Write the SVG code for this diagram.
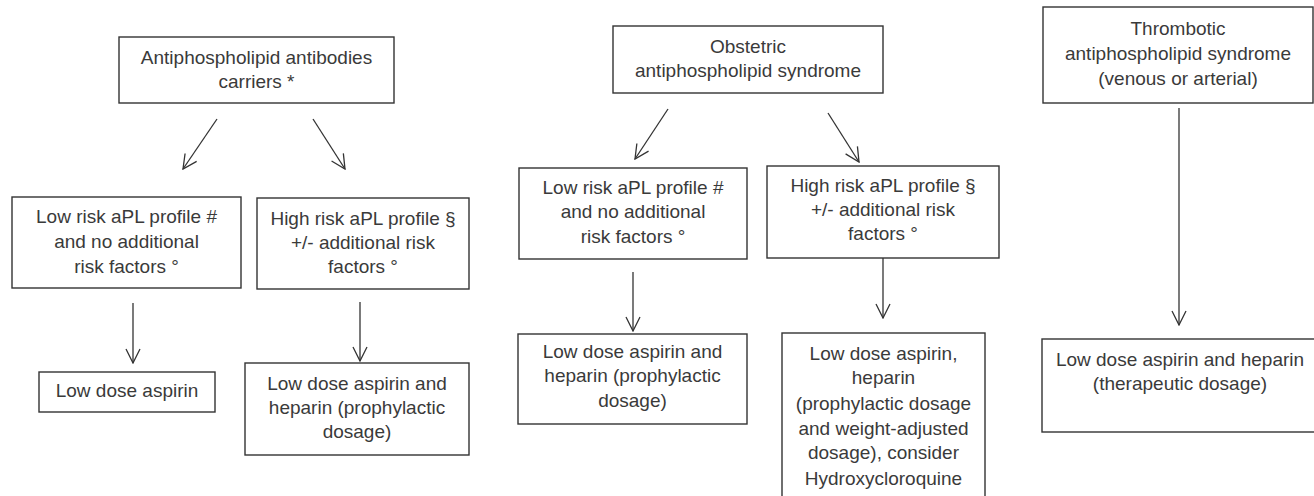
<svg xmlns="http://www.w3.org/2000/svg" width="1314" height="496" viewBox="0 0 1314 496">
<style>
.box{fill:#fff;stroke:#333;stroke-width:1.4}
.t{font-family:"Liberation Sans",Arial,sans-serif;font-size:19px;fill:#3a3a3a;text-anchor:middle}
.c{stroke:#333;stroke-width:1.3;fill:none;marker-end:url(#ah)}
</style>
<defs>
<marker id="ah" markerUnits="userSpaceOnUse" markerWidth="16" markerHeight="16" viewBox="0 0 16 16" refX="15" refY="8" orient="auto">
<path d="M1,1 L15,8 L1,15" fill="none" stroke="#333" stroke-width="1.3"/>
</marker>
</defs>
<rect width="1314" height="496" fill="#fff"/>
<g id="connectors">
<line class="c" x1="217" y1="119" x2="183" y2="169"/>
<line class="c" x1="313" y1="119" x2="345" y2="169"/>
<line class="c" x1="133" y1="303" x2="133" y2="363"/>
<line class="c" x1="360" y1="302" x2="360" y2="361"/>
<line class="c" x1="668" y1="109" x2="635" y2="159"/>
<line class="c" x1="828" y1="113" x2="859" y2="162"/>
<line class="c" x1="633" y1="272" x2="633" y2="331"/>
<line class="c" x1="883" y1="258" x2="883" y2="318"/>
<line class="c" x1="1179" y1="108" x2="1179" y2="325"/>
</g>
<g id="carriers">
<rect class="box" x="119" y="37" width="275" height="66"/>
<text class="t" x="256.5" y="64">Antiphospholipid antibodies</text>
<text class="t" x="256.5" y="88">carriers *</text>
</g>
<g id="carriers-low">
<rect class="box" x="12" y="197" width="229" height="91"/>
<text class="t" x="126.5" y="223">Low risk aPL profile #</text>
<text class="t" x="126.5" y="248">and no additional</text>
<text class="t" x="126.5" y="273">risk factors °</text>
</g>
<g id="carriers-high">
<rect class="box" x="257" y="198" width="212" height="91"/>
<text class="t" x="363" y="225">High risk aPL profile §</text>
<text class="t" x="363" y="249">+/- additional risk</text>
<text class="t" x="363" y="273">factors °</text>
</g>
<g id="carriers-low-tx">
<rect class="box" x="39" y="372" width="176" height="40"/>
<text class="t" x="127" y="397">Low dose aspirin</text>
</g>
<g id="carriers-high-tx">
<rect class="box" x="245" y="363" width="224" height="92"/>
<text class="t" x="357" y="390">Low dose aspirin and</text>
<text class="t" x="357" y="414">heparin (prophylactic</text>
<text class="t" x="357" y="438">dosage)</text>
</g>
<g id="obstetric">
<rect class="box" x="613" y="26" width="270" height="67"/>
<text class="t" x="748" y="53">Obstetric</text>
<text class="t" x="748" y="77">antiphospholipid syndrome</text>
</g>
<g id="obstetric-low">
<rect class="box" x="519" y="168" width="228" height="91"/>
<text class="t" x="633" y="194">Low risk aPL profile #</text>
<text class="t" x="633" y="218">and no additional</text>
<text class="t" x="633" y="243">risk factors °</text>
</g>
<g id="obstetric-high">
<rect class="box" x="767" y="166" width="232" height="92"/>
<text class="t" x="883" y="192">High risk aPL profile §</text>
<text class="t" x="883" y="216">+/- additional risk</text>
<text class="t" x="883" y="240">factors °</text>
</g>
<g id="obstetric-low-tx">
<rect class="box" x="518" y="334" width="229" height="90"/>
<text class="t" x="632.5" y="358">Low dose aspirin and</text>
<text class="t" x="632.5" y="382">heparin (prophylactic</text>
<text class="t" x="632.5" y="407">dosage)</text>
</g>
<g id="obstetric-high-tx">
<rect class="box" x="782" y="333" width="203" height="175"/>
<text class="t" x="883.5" y="360">Low dose aspirin,</text>
<text class="t" x="883.5" y="384">heparin</text>
<text class="t" x="883.5" y="410">(prophylactic dosage</text>
<text class="t" x="883.5" y="435">and weight-adjusted</text>
<text class="t" x="883.5" y="459">dosage), consider</text>
<text class="t" x="883.5" y="485">Hydroxycloroquine</text>
</g>
<g id="thrombotic">
<rect class="box" x="1043" y="7" width="270" height="96"/>
<text class="t" x="1178" y="35">Thrombotic</text>
<text class="t" x="1178" y="60">antiphospholipid syndrome</text>
<text class="t" x="1178" y="85">(venous or arterial)</text>
</g>
<g id="thrombotic-tx">
<rect class="box" x="1042" y="339" width="280" height="93"/>
<text class="t" x="1180" y="366">Low dose aspirin and heparin</text>
<text class="t" x="1180" y="390">(therapeutic dosage)</text>
</g>
</svg>
